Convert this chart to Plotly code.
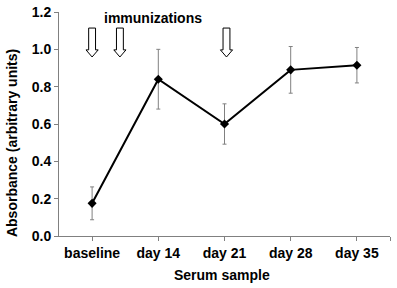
import plotly.graph_objects as go

categories = ["baseline", "day 14", "day 21", "day 28", "day 35"]
absorbance = [0.175, 0.84, 0.60, 0.89, 0.915]
error = [0.088, 0.16, 0.108, 0.125, 0.095]

# immunization arrows (category-axis position)
arrow_x = [0.0, 0.42, 2.03]
arrow_top = 1.114
arrow_neck = 0.997
arrow_tip = 0.959
shaft_half = 0.052
head_half = 0.092

xpos = list(range(len(categories)))
FONT = "Liberation Sans, Arial, sans-serif"

fig = go.Figure()
fig.add_trace(go.Scatter(
    x=xpos, y=absorbance, mode="lines+markers",
    line=dict(color="black", width=2),
    marker=dict(symbol="diamond", size=7, color="black"),
    error_y=dict(type="data", array=error, visible=True,
                 color="#808080", thickness=1, width=2),
    showlegend=False, hoverinfo="skip",
))

for ax in arrow_x:
    path = (f"M {ax-shaft_half},{arrow_top} L {ax+shaft_half},{arrow_top} "
            f"L {ax+shaft_half},{arrow_neck} L {ax+head_half},{arrow_neck} "
            f"L {ax},{arrow_tip} L {ax-head_half},{arrow_neck} "
            f"L {ax-shaft_half},{arrow_neck} Z")
    fig.add_shape(type="path", path=path, xref="x", yref="y",
                  line=dict(color="black", width=1), fillcolor="white")

fig.add_annotation(x=0.92, y=1.168, xref="x", yref="y", text="<b>immunizations</b>",
                   showarrow=False, font=dict(family=FONT, size=14, color="black"))

fig.add_annotation(x=0.492, y=-0.174, xref="paper", yref="paper",
                   text="<b>Serum sample</b>", showarrow=False,
                   xanchor="center", yanchor="middle",
                   font=dict(family=FONT, size=14, color="black"))
fig.add_annotation(x=-0.142, y=0.415, xref="paper", yref="paper",
                   text="<b>Absorbance (arbitrary units)</b>", showarrow=False,
                   textangle=-90, xanchor="center", yanchor="middle",
                   font=dict(family=FONT, size=14, color="black"))

fig.update_layout(
    width=397, height=288,
    margin=dict(l=59, r=7, t=12, b=52),
    paper_bgcolor="white", plot_bgcolor="white",
    font=dict(family=FONT, size=14, color="black"),
    hovermode=False,
)
fig.update_xaxes(
    range=[-0.5, 4.5], tickmode="array", tickvals=xpos + [4.5],
    ticktext=[f"<b>{c}</b>" for c in categories] + [""],
    showline=True, linecolor="#808080", linewidth=1,
    ticks="outside", ticklen=4, tickcolor="#808080",
    showgrid=False, zeroline=False, automargin=False,
)
fig.update_yaxes(
    range=[0, 1.2], tickmode="array", tickvals=[0, 0.2, 0.4, 0.6, 0.8, 1.0, 1.2],
    ticktext=[f"<b>{v:.1f}</b>" for v in [0, 0.2, 0.4, 0.6, 0.8, 1.0, 1.2]],
    showline=True, linecolor="#808080", linewidth=1,
    ticks="outside", ticklen=4, tickcolor="#808080",
    showgrid=False, zeroline=False, automargin=False,
)

fig.write_html("out.html", config={"displayModeBar": False},
               post_script="document.body.style.margin='0px';document.body.style.overflow='hidden';")
